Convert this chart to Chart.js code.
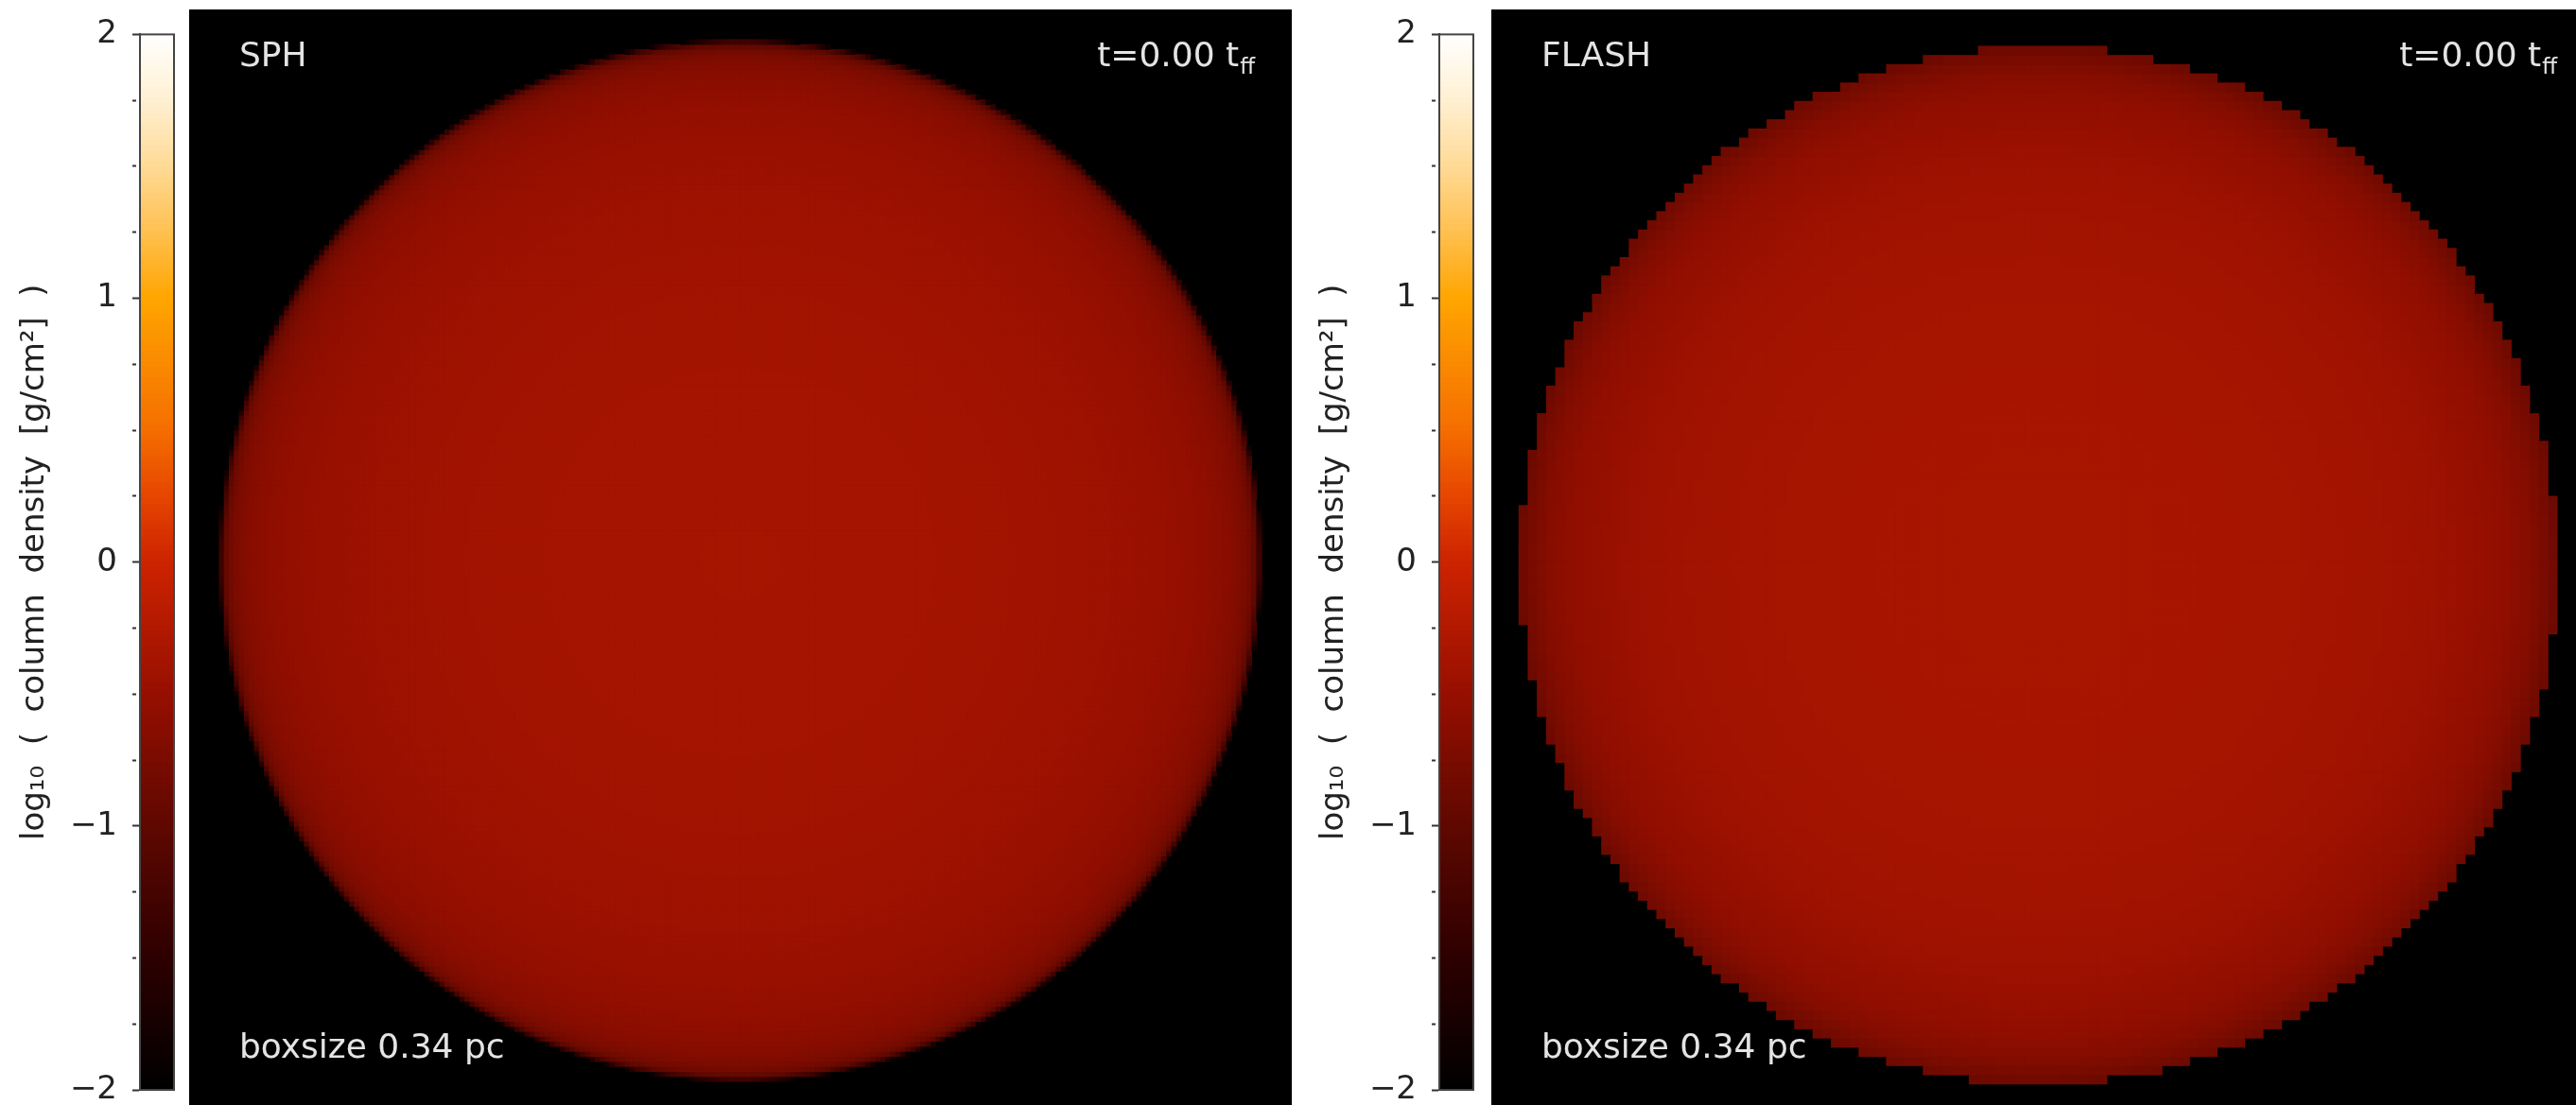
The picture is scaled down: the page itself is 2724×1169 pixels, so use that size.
<!DOCTYPE html>
<html>
<head>
<meta charset="utf-8">
<script src="https://cdn.jsdelivr.net/npm/chart.js@4.4.1/dist/chart.umd.min.js"></script>
<style>
  html, body { margin: 0; padding: 0; overflow: hidden; background: #fff; }
  body { position: relative; width: 2724px; height: 1169px; }
  canvas { position: absolute; }
  .panel { background: #000; }
</style>
</head>
<body>
<canvas id="cbSph" class="cb" width="190" height="1200" style="left:0;top:0"></canvas>
<canvas id="mapSph" class="panel" width="1166" height="1166" style="left:200px;top:10px"></canvas>
<canvas id="cbFlash" class="cb" width="190" height="1200" style="left:1374px;top:0"></canvas>
<canvas id="mapFlash" class="panel" width="1166" height="1166" style="left:1577px;top:10px"></canvas>
<script>
// box and cloud, in pc
const BOX_SIZE = 0.34;
const CLOUD_RADIUS = 0.16;

// radial profiles of log10 column density, r in units of the cloud radius
const sphRadius   = [0, 0.3, 0.5, 0.7, 0.8, 0.88, 0.94, 0.97, 0.985, 0.993, 1.0, 1.006];
const sphLogSigma = [-0.36, -0.37, -0.39, -0.43, -0.47, -0.53, -0.62, -0.72, -0.85, -1.0, -1.35, -2.0];
const flashRadius   = [0, 0.3, 0.5, 0.7, 0.8, 0.9, 0.95, 0.98, 1.0];
const flashLogSigma = [-0.33, -0.34, -0.36, -0.40, -0.45, -0.55, -0.66, -0.78, -0.88];
const flashCentre = [-0.0012, -0.0015];

// grid cells across the box
const SPH_CELLS = 220;
const FLASH_CELLS = 120;

// colour table
const cbValues = [-2, -1.5, -1, -0.5, 0, 0.25, 0.5, 1, 1.25, 1.5, 1.75, 2];
const cbRed    = [0, 45, 95, 150, 205, 230, 245, 255, 255, 255, 255, 255];
const cbGreen  = [0, 0, 8, 15, 35, 70, 110, 165, 192, 218, 240, 255];
const cbBlue   = [0, 0, 0, 0, 0, 0, 0, 0, 80, 150, 210, 255];
const cbTicks  = [-2, -1, 0, 1, 2];

const AXIS_TITLE = 'log\u2081\u2080  (  column  density  [g/cm\u00b2]  )';

function lerpTable(xs, ys, x) {
  if (x <= xs[0]) return ys[0];
  for (let i = 1; i < xs.length; i++) {
    if (x <= xs[i]) {
      const f = (x - xs[i - 1]) / (xs[i] - xs[i - 1]);
      return ys[i - 1] + f * (ys[i] - ys[i - 1]);
    }
  }
  return ys[ys.length - 1];
}

function colourFor(v) {
  const r = Math.round(lerpTable(cbValues, cbRed, v));
  const g = Math.round(lerpTable(cbValues, cbGreen, v));
  const b = Math.round(lerpTable(cbValues, cbBlue, v));
  return `rgb(${r},${g},${b})`;
}

function buildCells(n, radius, logSigma, centre) {
  const cell = BOX_SIZE / n;
  const rMax = radius[radius.length - 1];
  const points = [], colours = [];
  for (let i = 0; i < n; i++) {
    for (let j = 0; j < n; j++) {
      const x = -BOX_SIZE / 2 + (i + 0.5) * cell;
      const y = -BOX_SIZE / 2 + (j + 0.5) * cell;
      const r = Math.hypot(x - centre[0], y - centre[1]) / CLOUD_RADIUS;
      if (r > rMax) continue;
      points.push({ x, y });
      colours.push(colourFor(lerpTable(radius, logSigma, r)));
    }
  }
  return { points, colours, cell };
}

const panelText = {
  id: 'panelText',
  afterDraw(chart, args, opts) {
    const { ctx, chartArea: a } = chart;
    ctx.save();
    ctx.fillStyle = '#e4e4e4';
    ctx.textBaseline = 'alphabetic';
    ctx.textAlign = 'left';
    ctx.font = '36px "DejaVu Sans"';
    ctx.fillText(opts.name, a.left + 53, a.top + 60);
    ctx.fillText('boxsize 0.34 pc', a.left + 53, a.top + 1109);
    const main = 't=0.00 t';
    const mainW = ctx.measureText(main).width;
    ctx.font = '23px "DejaVu Sans"';
    const subW = ctx.measureText('ff').width;
    const x0 = a.left + 1126 - subW - mainW;
    ctx.fillText('ff', x0 + mainW + 1, a.top + 68);
    ctx.font = '36px "DejaVu Sans"';
    ctx.fillText(main, x0, a.top + 60);
    ctx.restore();
  }
};

function makeMap(id, name, n, radius, logSigma, centre) {
  const { points, colours, cell } = buildCells(n, radius, logSigma, centre);
  new Chart(document.getElementById(id), {
    type: 'scatter',
    data: {
      datasets: [{
        data: points,
        backgroundColor: colours,
        borderWidth: 0,
        pointStyle: 'rect',
        pointRadius: (c) => {
          const s = c.chart.scales.x;
          const px = Math.abs(s.getPixelForValue(cell) - s.getPixelForValue(0));
          return (px + 0.8) * Math.SQRT1_2;
        },
        pointHoverRadius: 0,
      }],
    },
    options: {
      responsive: false,
      animation: false,
      devicePixelRatio: 1,
      events: [],
      layout: { padding: 0 },
      scales: {
        x: { type: 'linear', min: -BOX_SIZE / 2, max: BOX_SIZE / 2, display: false },
        y: { type: 'linear', min: -BOX_SIZE / 2, max: BOX_SIZE / 2, display: false },
      },
      plugins: { legend: { display: false }, tooltip: { enabled: false }, panelText: { name } },
    },
    plugins: [panelText],
  });
}

const barFrame = {
  id: 'barFrame',
  afterDraw(chart) {
    const { ctx, chartArea: a } = chart;
    ctx.save();
    ctx.strokeStyle = '#444';
    ctx.lineWidth = 2;
    ctx.strokeRect(a.left, a.top, a.right - a.left, a.bottom - a.top);
    ctx.restore();
  }
};

function makeColorbar(id) {
  const step = 0.02;
  const datasets = [];
  for (let k = 0; k < Math.round(4 / step); k++) {
    const v = cbValues[0] + k * step;
    datasets.push({
      data: [[v - 0.004, v + step]],
      backgroundColor: colourFor(v + step / 2),
      borderWidth: 0,
      grouped: false,
      barPercentage: 1,
      categoryPercentage: 1,
    });
  }
  new Chart(document.getElementById(id), {
    type: 'bar',
    data: { labels: ['cb'], datasets },
    options: {
      responsive: false,
      animation: false,
      devicePixelRatio: 1,
      events: [],
      layout: { padding: { left: 0, right: 6, top: 33, bottom: 47 } },
      scales: {
        x: { display: false },
        y: {
          min: -2, max: 2,
          afterFit: (s) => { s.width = 148; },
          border: { display: true, color: '#444', width: 2 },
          grid: {
            drawOnChartArea: false, drawTicks: true, tickLength: 8,
            tickColor: '#333', tickWidth: 2,
            tickBorderDash: (c) => (c.tick && cbTicks.includes(c.tick.value)) ? [] : [4, 30],
          },
          ticks: {
            stepSize: 0.25, autoSkip: false, padding: 16, color: '#222',
            font: { family: 'DejaVu Sans', size: 34 },
            callback: (v) => cbTicks.includes(v) ? (v < 0 ? '\u2212' + Math.abs(v) : String(v)) : '',
          },
          title: {
            display: true, text: AXIS_TITLE, color: '#222',
            font: { family: 'DejaVu Sans', size: 34 },
            padding: { top: 17, bottom: 0 },
          },
        },
      },
      plugins: { legend: { display: false }, tooltip: { enabled: false } },
    },
    plugins: [barFrame],
  });
}

makeColorbar('cbSph');
makeColorbar('cbFlash');
makeMap('mapSph', 'SPH', SPH_CELLS, sphRadius, sphLogSigma, [0, 0]);
makeMap('mapFlash', 'FLASH', FLASH_CELLS, flashRadius, flashLogSigma, flashCentre);
</script>
</body>
</html>
